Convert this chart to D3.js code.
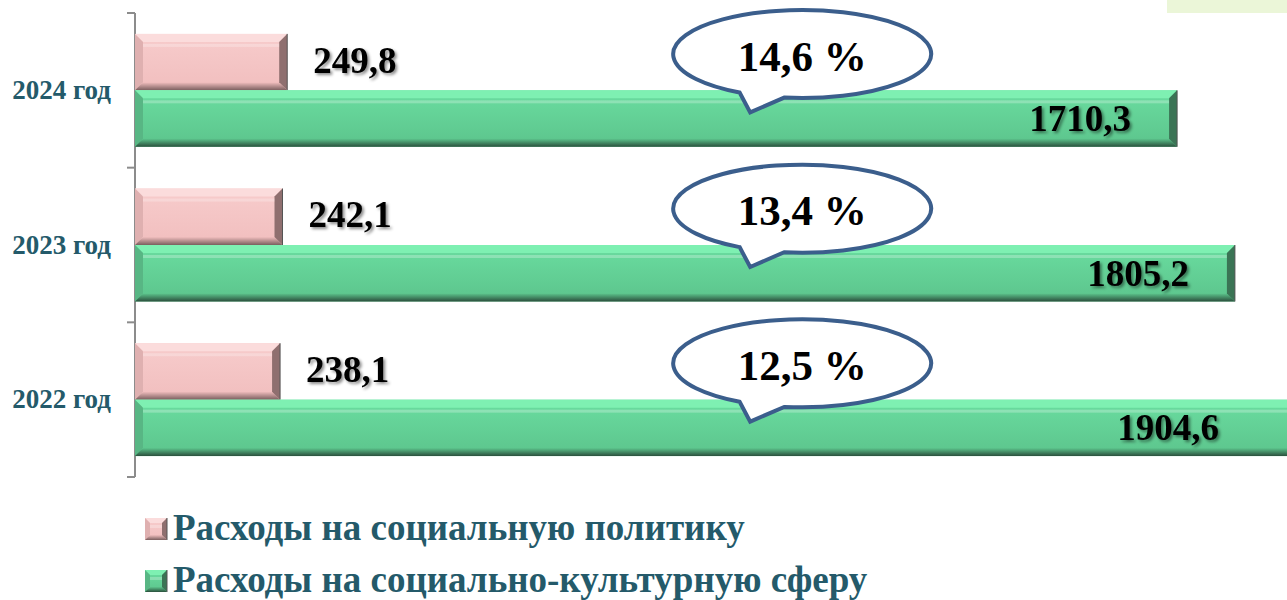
<!DOCTYPE html>
<html>
<head>
<meta charset="utf-8">
<script src="https://cdn.jsdelivr.net/npm/d3@7"></script>
<style>
  body { margin: 0; background: #fff; }
  svg { display: block; }
</style>
</head>
<body>
<svg id="chart" width="1287" height="600"></svg>
<script>
// years, top to bottom
var years = ["2024 год", "2023 год", "2022 год"];
var seriesNames = ["Расходы на социальную политику", "Расходы на социально-культурную сферу"];
var socialPolicy = [249.8, 242.1, 238.1];
var socialCulture = [1710.3, 1805.2, 1904.6];
var shareLabels = ["14,6 %", "13,4 %", "12,5 %"];

var W = 1287, H = 600;
var FONT = "'Liberation Serif', 'Times New Roman', serif";
var svg = d3.select("#chart");
var defs = svg.append("defs");

// little pale green box in the corner
svg.append("rect").attr("x", 1167).attr("y", 0).attr("width", 120).attr("height", 13)
  .attr("fill", "#ebf6d8");

// shadow for the numbers
var f = defs.append("filter").attr("id", "shadow").attr("x", "-10%").attr("y", "-20%")
  .attr("width", "130%").attr("height", "150%");
f.append("feDropShadow").attr("dx", 2).attr("dy", 2).attr("stdDeviation", 1.5)
  .attr("flood-color", "#000").attr("flood-opacity", 0.45);

// colours for the two series: face gradient + bevel edges
var palettes = [
  {id: "pink", top: "#fbdcdc", face1: "#f7cccc", face2: "#f1bebe", left: "#dfb0b0", right: "#8f6f6f", bottom: "#7a5e5e"},
  {id: "green", top: "#7ef0b2", face1: "#6adda0", face2: "#5cc48c", left: "#58b684", right: "#3b7455", bottom: "#2a4f3c"}
];
palettes.forEach(function(p) {
  var g = defs.append("linearGradient").attr("id", "face-" + p.id)
    .attr("x1", 0).attr("y1", 0).attr("x2", 0).attr("y2", 1);
  g.append("stop").attr("offset", "0%").attr("stop-color", p.face1);
  g.append("stop").attr("offset", "100%").attr("stop-color", p.face2);
  var b = defs.append("linearGradient").attr("id", "bot-" + p.id)
    .attr("x1", 0).attr("y1", 0).attr("x2", 0).attr("y2", 1);
  b.append("stop").attr("offset", "0%").attr("stop-color", p.face2);
  b.append("stop").attr("offset", "100%").attr("stop-color", p.bottom);
});

function bevelBox(g, x0, y0, w, h, b, p) {
  var x1 = x0 + w, y1 = y0 + h;
  g.append("rect").attr("x", x0).attr("y", y0).attr("width", w).attr("height", h)
    .attr("fill", "url(#face-" + p.id + ")");
  var poly = function(pts, fill) {
    g.append("polygon").attr("points", pts.map(function(d) { return d.join(","); }).join(" "))
      .attr("fill", fill);
  };
  poly([[x0, y0], [x1, y0], [x1 - b, y0 + b], [x0 + b, y0 + b]], p.top);
  poly([[x0, y0], [x0 + b, y0 + b], [x0 + b, y1 - b], [x0, y1]], p.left);
  poly([[x0, y1], [x1, y1], [x1 - b, y1 - b], [x0 + b, y1 - b]], "url(#bot-" + p.id + ")");
  poly([[x1, y0], [x1 - b, y0 + b], [x1 - b, y1 - b], [x1, y1]], p.right);
  // soft highlight line near the top
  g.append("rect").attr("x", x0 + b).attr("y", y0 + b + 2).attr("width", Math.max(0, w - 2 * b))
    .attr("height", 3).attr("fill", "#fff").attr("opacity", 0.25);
  g.append("line").attr("x1", x1).attr("x2", x1).attr("y1", y0).attr("y2", y1)
    .attr("stroke", "#555").attr("stroke-width", 1);
}

// scales
var x = d3.scaleLinear().domain([0, 2000]).range([135, 135 + 2000 * 0.6093]);
var y = d3.scaleBand().domain(years).range([13, 477]);
var ySub = d3.scaleBand().domain([0, 1]).range([0, y.bandwidth()])
  .paddingInner(0).paddingOuter(0.37);

// axis
var axis = d3.axisLeft(y).tickSize(0).tickPadding(24);
var ag = svg.append("g").attr("transform", "translate(135,0)").call(axis);
ag.select(".domain").attr("stroke", "#8c8c8c").attr("stroke-width", 2)
  .attr("d", "M0," + y.range()[0] + "V" + y.range()[1]);
ag.selectAll(".tick text")
  .attr("font-family", FONT)
  .attr("font-weight", "bold").attr("font-size", 27).attr("fill", "#245a6a");
// tick marks at band edges
var edges = years.map(function(d) { return y(d); }).concat([y.range()[1]]);
svg.append("g").selectAll("line").data(edges).enter().append("line")
  .attr("x1", 127).attr("x2", 135).attr("y1", function(d) { return d; }).attr("y2", function(d) { return d; })
  .attr("stroke", "#8c8c8c").attr("stroke-width", 2);

// bars
var series = [socialPolicy, socialCulture];
var barsG = svg.append("g");
years.forEach(function(yr, i) {
  series.forEach(function(vals, s) {
    var y0 = y(yr) + ySub(s);
    bevelBox(barsG.append("g"), x(0), y0, x(vals[i]) - x(0), ySub.bandwidth(), 8, palettes[s]);
  });
});

// callouts
var calloutG = svg.append("g");
years.forEach(function(yr, i) {
  var cx = x(1095), cy = y(yr) + 41, rx = 129, ry = 44;
  var aL = 119 * Math.PI / 180, aR = 98 * Math.PI / 180;
  var pL = [cx + rx * Math.cos(aL), cy + ry * Math.sin(aL)];
  var pR = [cx + rx * Math.cos(aR), cy + ry * Math.sin(aR)];
  var tip = [cx - 52, y(yr) + ySub(1) + 22];
  var d = "M" + pR + " A" + rx + "," + ry + " 0 1 0 " + pL + " L" + tip + " Z";
  calloutG.append("path").attr("d", d).attr("fill", "#fff")
    .attr("stroke", "#3b5e8c").attr("stroke-width", 4).attr("stroke-linejoin", "miter");
  calloutG.append("text").attr("x", cx).attr("y", cy + 2)
    .attr("text-anchor", "middle").attr("dominant-baseline", "central")
    .attr("font-family", FONT)
    .attr("font-weight", "bold").attr("font-size", 43).attr("fill", "#000")
    .text(shareLabels[i]);
});

// value labels
var labelsG = svg.append("g")
  .attr("font-family", FONT)
  .attr("font-weight", "bold").attr("font-size", 37).attr("fill", "#000")
  .attr("filter", "url(#shadow)");
years.forEach(function(yr, i) {
  labelsG.append("text")
    .attr("x", x(socialPolicy[i]) + 26)
    .attr("y", y(yr) + ySub(0) + ySub.bandwidth() / 2 - 2)
    .attr("dominant-baseline", "central")
    .text(d3.format(".1f")(socialPolicy[i]).replace(".", ","));
  labelsG.append("text")
    .attr("x", Math.min(x(socialCulture[i]), W - 22) - 46)
    .attr("y", y(yr) + ySub(1) + ySub.bandwidth() / 2)
    .attr("text-anchor", "end").attr("dominant-baseline", "central")
    .text(d3.format(".1f")(socialCulture[i]).replace(".", ","));
});

// legend (second line kept just inside the bottom edge)
var legend = svg.append("g");
seriesNames.forEach(function(name, s) {
  var ly = 518 + s * 52;
  bevelBox(legend.append("g"), 145, ly, 22, 22, 5, palettes[s]);
  legend.append("text").attr("x", 173).attr("y", ly + 22)
    .attr("font-family", FONT)
    .attr("font-weight", "bold").attr("font-size", 37).attr("fill", "#245a6a")
    .text(name);
});
</script>
</body>
</html>
